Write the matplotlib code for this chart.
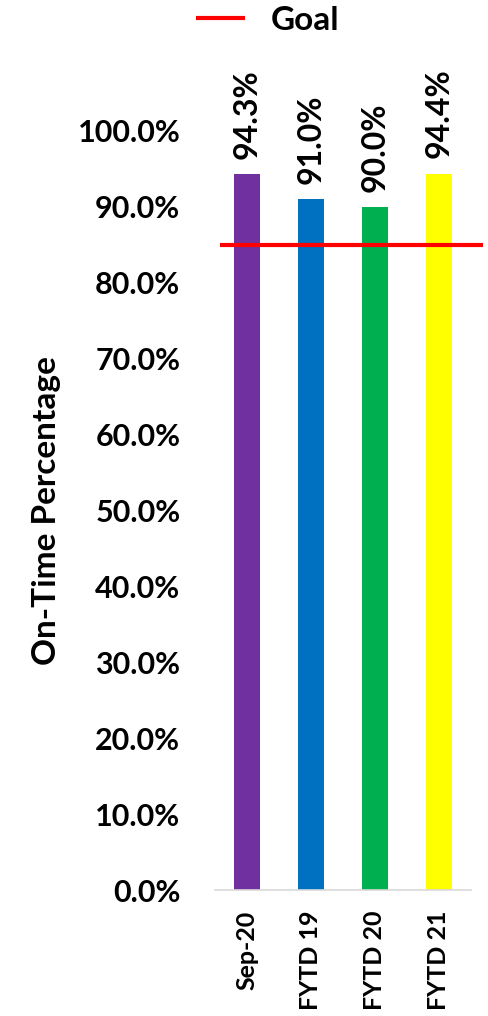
import matplotlib
matplotlib.use("Agg")
import matplotlib.pyplot as plt
from matplotlib.ticker import PercentFormatter

# 데이터
categories = ["Sep-20", "FYTD 19", "FYTD 20", "FYTD 21"]
on_time = [0.943, 0.910, 0.900, 0.944]
goal = 0.85
bar_colors = ["#7030A0", "#0070C0", "#00B050", "#FFFF00"]

plt.rcParams["font.family"] = ["Lato", "DejaVu Sans"]
plt.rcParams["font.weight"] = "bold"

fig = plt.figure(figsize=(4.89, 10.16), dpi=100)
ax = fig.add_axes([215 / 489, 1 - 890 / 1016, 256 / 489, (890 - 131) / 1016])

x = range(len(categories))
bars = ax.bar(x, on_time, width=0.41, color=bar_colors)

# 막대 위 값 라벨 (세로)
for rect, v in zip(bars, on_time):
    ax.annotate(f"{v * 100:.1f}%",
                (rect.get_x() + rect.get_width() / 2, v),
                xytext=(0, 11), textcoords="offset points",
                rotation=90, ha="center", va="bottom",
                fontsize=23, fontweight="bold", color="black")

# 목표선: 축 밖까지 이어짐
goal_line, = ax.plot([-0.42, 3.68], [goal, goal], color="#FF0000", lw=3,
                     clip_on=False, solid_capstyle="butt")

ax.set_xlim(-0.5, 3.5)
ax.set_ylim(0, 1.0)
ax.set_yticks([i / 10 for i in range(11)])
ax.yaxis.set_major_formatter(PercentFormatter(1.0, decimals=1))
ax.set_xticks(list(x))
ax.set_xticklabels(categories, rotation=90, fontweight="bold")
ax.tick_params(axis="both", length=0)
ax.tick_params(axis="x", labelsize=18, pad=15)
ax.tick_params(axis="y", labelsize=22, pad=25)

for side in ["top", "right", "left"]:
    ax.spines[side].set_visible(False)
ax.spines["bottom"].set_color("#D9D9D9")
ax.spines["bottom"].set_linewidth(1.2)

ax.set_ylabel("On-Time Percentage", fontsize=24, fontweight="bold", labelpad=12)

fig.legend([goal_line], ["Goal"], loc="center", bbox_to_anchor=(268 / 489, 1 - 20 / 1016),
           frameon=False, fontsize=24, handlelength=1.45, handletextpad=0.8)

fig.savefig("out.png", dpi=100, facecolor="white")
